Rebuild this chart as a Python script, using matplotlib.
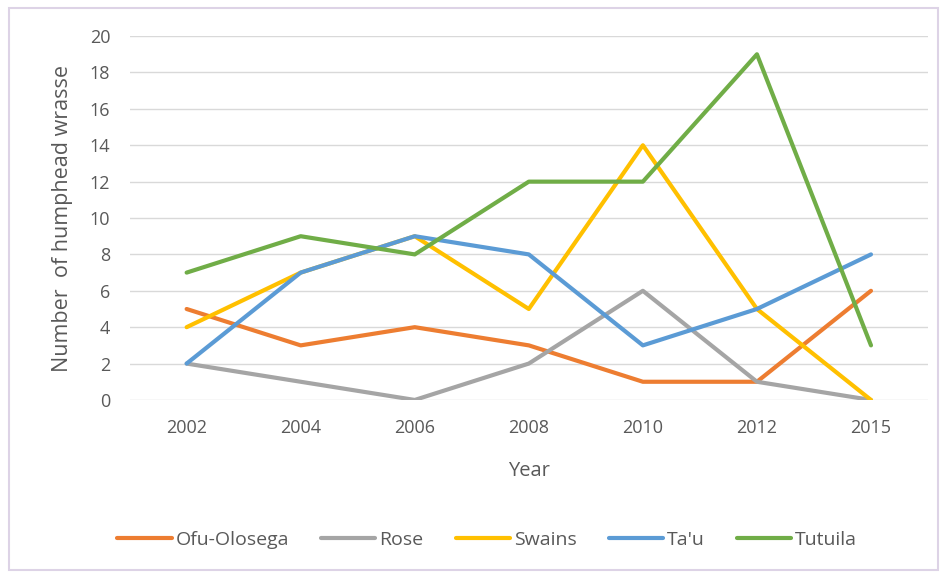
import matplotlib
matplotlib.use("Agg")
import matplotlib.pyplot as plt
from matplotlib.patches import Rectangle

years = ["2002", "2004", "2006", "2008", "2010", "2012", "2015"]
ofu_olosega = [5, 3, 4, 3, 1, 1, 6]
rose = [2, 1, 0, 2, 6, 1, 0]
swains = [4, 7, 9, 5, 14, 5, 0]
tau = [2, 7, 9, 8, 3, 5, 8]
tutuila = [7, 9, 8, 12, 12, 19, 3]

series = [
    ("Ofu-Olosega", ofu_olosega, "#ED7D31"),
    ("Rose", rose, "#A5A5A5"),
    ("Swains", swains, "#FFC000"),
    ("Ta'u", tau, "#5B9BD5"),
    ("Tutuila", tutuila, "#70AD47"),
]

plt.rcParams['font.family'] = ['Open Sans', 'DejaVu Sans']

fig = plt.figure(figsize=(9.46, 5.73), dpi=100)
fig.patches.append(Rectangle((0.009, 0.005), 0.983, 0.981, transform=fig.transFigure,
                             fill=False, edgecolor="#ddd3e6", linewidth=1.5))
ax = fig.add_axes([0.137, 0.302, 0.844, 0.635])

x = list(range(len(years)))
for name, vals, color in series:
    ax.plot(x, vals, color=color, linewidth=3, label=name, solid_joinstyle="round",
            solid_capstyle="round")

ax.set_xlim(-0.5, len(years) - 0.5)
ax.set_ylim(0, 20)
ax.set_yticks(range(0, 21, 2))
ax.set_xticks(x)
ax.set_xticklabels(years)
ax.yaxis.grid(True, color="#d9d9d9", linewidth=1)
ax.set_axisbelow(True)
for s in ax.spines.values():
    s.set_visible(False)
ax.tick_params(length=0, colors="#595959", labelsize=13)
ax.tick_params(axis="x", pad=14)
ax.tick_params(axis="y", pad=14)
ax.set_xlabel("Year", fontsize=14.5, color="#595959", labelpad=17)
ax.set_ylabel("Number  of humphead wrasse", fontsize=15.5, color="#595959", labelpad=12)

fig.legend(loc="center", bbox_to_anchor=(0.515, 0.058), ncol=5, frameon=False,
           fontsize=14, labelcolor="#595959", handlelength=2.8, handletextpad=0.2,
           columnspacing=1.65)

fig.savefig("out.png", dpi=100)
